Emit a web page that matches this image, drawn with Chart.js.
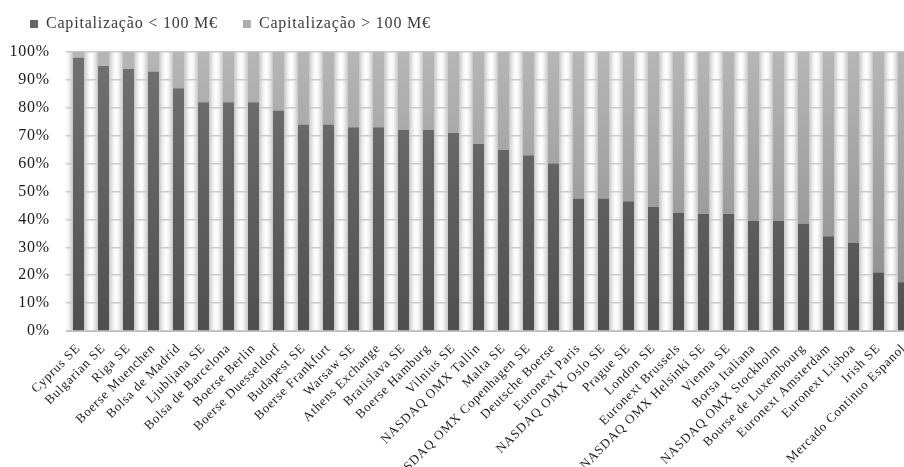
<!DOCTYPE html>
<html>
<head>
<meta charset="utf-8">
<script src="https://cdn.jsdelivr.net/npm/chart.js@4/dist/chart.umd.min.js"></script>
<style>
  html, body { margin:0; padding:0; background:#fff; overflow:hidden; }
  #wrap { width:920px; height:467px; }
</style>
</head>
<body>
<div id="wrap"><canvas id="chartCap" width="920" height="467"></canvas></div>
<script>
// bolsas europeias, ordenadas pela quota de empresas pequenas
const bolsas = ['Cyprus SE','Bulgarian SE','Riga SE','Boerse Muenchen','Bolsa de Madrid','Ljubljana SE',
  'Bolsa de Barcelona','Boerse Berlin','Boerse Duesseldorf','Budapest SE','Boerse Frankfurt','Warsaw SE',
  'Athens Exchange','Bratislava SE','Boerse Hamburg','Vilnius SE','NASDAQ OMX Tallin','Malta SE',
  'NASDAQ OMX Copenhagen SE','Deutsche Boerse','Euronext Paris','NASDAQ OMX Oslo SE','Prague SE','London SE',
  'Euronext Brussels','NASDAQ OMX Helsinki SE','Vienna SE','Borsa Italiana','NASDAQ OMX Stockholm',
  'Bourse de Luxembourg','Euronext Amsterdam','Euronext Lisboa','Irish SE','Mercado Continuo Espanol'];
const capMenor = [98,95,94,93,87,82,82,82,79,74,74,73,73,72,72,71,67,65,63,60,47.5,47.5,46.5,44.5,42.5,42,42,39.5,39.5,38.5,34,31.5,21,17.5];
const capMaior = [2,5,6,7,13,18,18,18,21,26,26,27,27,28,28,29,33,35,37,40,52.5,52.5,53.5,55.5,57.5,58,58,60.5,60.5,61.5,66,68.5,79,82.5];
const yTicks = [0,10,20,30,40,50,60,70,80,90,100];

const serif = "'Liberation Serif', 'Times New Roman', serif";

function degrade(top, bottom){
  return function(ctx){
    const area = ctx.chart.chartArea;
    if (!area) return bottom;
    const g = ctx.chart.ctx.createLinearGradient(0, area.top, 0, area.bottom);
    g.addColorStop(0, top); g.addColorStop(1, bottom);
    return g;
  };
}

// fundo com as faixas "cilíndricas" entre as barras
const faixas = {
  id:'faixas',
  beforeDraw(chart){
    const {ctx, chartArea:a, scales:{x}} = chart;
    const meia = 5.5;
    ctx.save();
    ctx.beginPath(); ctx.rect(a.left, a.top, a.right - a.left, a.bottom - a.top); ctx.clip();
    for (let i = -1; i < bolsas.length; i++){
      const c = i < 0 ? x.getPixelForValue(0) - 25 : x.getPixelForValue(i);
      const x0 = c + meia, x1 = c + 25 - meia;
      const g = ctx.createLinearGradient(x0, 0, x1, 0);
      g.addColorStop(0, '#c6c6c6'); g.addColorStop(0.3, '#f2f2f2');
      g.addColorStop(0.5, '#ffffff'); g.addColorStop(0.7, '#f2f2f2'); g.addColorStop(1, '#c6c6c6');
      ctx.fillStyle = g;
      ctx.fillRect(x0, a.top, x1 - x0, a.bottom - a.top);
    }
    ctx.restore();
  }
};

// texto um pouco mais largo, como no original, e altura fixa da legenda
const ajuste = {
  id:'ajuste',
  beforeUpdate(chart){
    chart.ctx.letterSpacing = '0.8px';
    const lg = chart.legend;
    if (lg && !lg._altFixa){
      const fitOrig = lg.fit;
      lg.fit = function(){ fitOrig.call(this); this.height = 61; };
      lg._altFixa = true;
    }
  },
  beforeDraw(chart){ chart.ctx.letterSpacing = '0.8px'; }
};

new Chart(document.getElementById('chartCap').getContext('2d'), {
  type:'bar',
  data:{
    labels: bolsas,
    datasets:[
      { label:'Capitalização < 100 M€', data: capMenor, backgroundColor: degrade('#727272', '#4f4f4f'),
        barPercentage:0.44, categoryPercentage:1 },
      { label:'Capitalização > 100 M€', data: capMaior, backgroundColor: degrade('#b6b6b6', '#8a8a8a'),
        barPercentage:0.44, categoryPercentage:1 }
    ]
  },
  options:{
    responsive:false,
    animation:false,
    layout:{ padding:{ top:-9, left:5, right:4, bottom:0 } },
    plugins:{
      tooltip:{ enabled:false },
      legend:{
        position:'top', align:'start',
        labels:{
          font:{ family:serif, size:16 }, color:'#3a3a3a',
          boxWidth:8, boxHeight:8, padding:25,
          generateLabels(chart){
            const cores = ['#666666', '#b0b0b0'];
            return chart.data.datasets.map((d, i) => ({
              text:d.label, fillStyle:cores[i], strokeStyle:cores[i], lineWidth:0,
              fontColor:'#3a3a3a', datasetIndex:i, hidden:false
            }));
          }
        }
      }
    },
    scales:{
      x:{
        stacked:true,
        grid:{ display:false },
        border:{ display:true, color:'#bdbdbd', width:1 },
        ticks:{ autoSkip:false, maxRotation:45, minRotation:45, padding:2,
          font:{ family:serif, size:13 }, color:'#1a1a1a' },
        afterFit(s){ s.height = 136; }
      },
      y:{
        stacked:true, min:0, max:100,
        afterBuildTicks(s){ s.ticks = yTicks.map(v => ({ value:v })); },
        grid:{ color:'#c9c9c9', lineWidth:1.5, drawTicks:false },
        border:{ display:false },
        ticks:{ padding:16, font:{ family:serif, size:16 }, color:'#1a1a1a',
          callback:v => v + '%' },
        afterFit(s){ s.width = 61; }
      }
    }
  },
  plugins:[faixas, ajuste]
});
</script>
</body>
</html>
